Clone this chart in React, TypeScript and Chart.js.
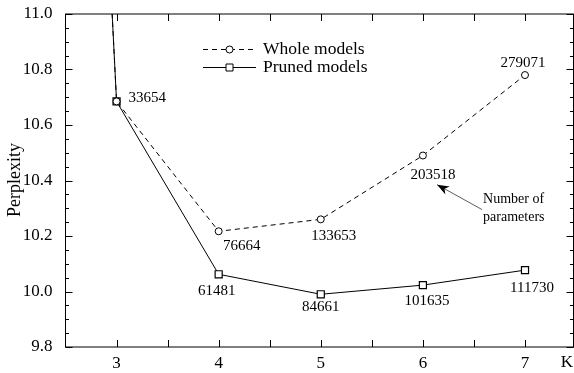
import React, { useEffect, useRef } from "react";
import { Chart, registerables } from "chart.js";

Chart.register(...registerables);

const categories = [2, 3, 4, 5, 6, 7];
const wholeValues = [18.0, 10.685, 10.217, 10.26, 10.49, 10.78];
const prunedValues = [18.0, 10.685, 10.062, 9.99, 10.023, 10.077];
const wholeParams = ["", "33654", "76664", "133653", "203518", "279071"];
const prunedParams = ["", "", "61481", "84661", "101635", "111730"];
const xTicks = [3, 4, 5, 6, 7];
const yTicks = [9.8, 10.0, 10.2, 10.4, 10.6, 10.8, 11.0];
const seriesNames = ["Whole models", "Pruned models"];
const annotationLines = ["Number of", "parameters"];

const FONT = "'Liberation Serif', 'Times New Roman', serif";

// label offsets (styling): [dx, dy, align]
const wholeLabelOffsets: [number, number, CanvasTextAlign][] = [
  [0, 0, "center"],
  [12, -3, "left"],
  [23, 15, "center"],
  [13, 17, "center"],
  [10, 20, "center"],
  [-2, -12, "center"],
];
const prunedLabelOffsets: [number, number, CanvasTextAlign][] = [
  [0, 0, "center"],
  [0, 0, "center"],
  [-2, 17, "center"],
  [0, 13, "center"],
  [4, 16, "center"],
  [7, 18, "center"],
];

const zeroPad = (s: any) => {
  s.paddingLeft = 0;
  s.paddingRight = 0;
  s.paddingTop = 0;
  s.paddingBottom = 0;
};

const decorPlugin = {
  id: "decor",
  afterDatasetsDraw(chart: any) {
    const ctx = chart.ctx;
    ctx.save();
    ctx.fillStyle = "#000";
    ctx.font = `15px ${FONT}`;
    ctx.textBaseline = "middle";
    const labelSets = [
      [wholeParams, wholeLabelOffsets],
      [prunedParams, prunedLabelOffsets],
    ] as const;
    labelSets.forEach(([labels, offs], di) => {
      const meta = chart.getDatasetMeta(di);
      meta.data.forEach((pt: any, i: number) => {
        const t = labels[i];
        if (!t) return;
        const [dx, dy, al] = offs[i];
        ctx.textAlign = al;
        ctx.fillText(t, pt.x + dx, pt.y + dy);
      });
    });
    ctx.restore();
  },
  afterDraw(chart: any) {
    const ctx = chart.ctx;
    const ca = chart.chartArea;
    const xs = chart.scales.x;
    const ys = chart.scales.y;
    ctx.save();
    ctx.strokeStyle = "#000";
    ctx.lineWidth = 1;
    // frame
    ctx.strokeRect(ca.left, ca.top, ca.right - ca.left, ca.bottom - ca.top);
    // y ticks
    ctx.beginPath();
    for (let k = 0; k <= 24; k++) {
      const v = 9.8 + k * 0.05;
      const y = Math.round(ys.getPixelForValue(v)) + 0.5;
      const len = k % 4 === 0 ? 7 : 3.5;
      ctx.moveTo(ca.left, y);
      ctx.lineTo(ca.left + len, y);
      ctx.moveTo(ca.right, y);
      ctx.lineTo(ca.right - len, y);
    }
    // x ticks
    for (let k = 0; k <= 8; k++) {
      const v = 3 + k * 0.5;
      const x = Math.round(xs.getPixelForValue(v)) + 0.5;
      ctx.moveTo(x, ca.bottom);
      ctx.lineTo(x, ca.bottom - 7);
      ctx.moveTo(x, ca.top);
      ctx.lineTo(x, ca.top + 7);
    }
    ctx.stroke();

    // axis titles
    ctx.fillStyle = "#000";
    ctx.font = `17px ${FONT}`;
    ctx.textAlign = "center";
    ctx.textBaseline = "middle";
    ctx.fillText("K", 567, 363);
    ctx.save();
    ctx.translate(15, 180);
    ctx.rotate(-Math.PI / 2);
    ctx.font = `18px ${FONT}`;
    ctx.fillText("Perplexity", 0, 0);
    ctx.restore();

    // legend
    const rows = [49, 67];
    ctx.font = `17.5px ${FONT}`;
    ctx.textAlign = "left";
    rows.forEach((ry, i) => {
      ctx.beginPath();
      ctx.setLineDash(i === 0 ? [5, 4] : []);
      ctx.moveTo(203, ry + 0.5);
      ctx.lineTo(256, ry + 0.5);
      ctx.stroke();
      ctx.setLineDash([]);
      ctx.beginPath();
      if (i === 0) {
        ctx.arc(229.5, ry + 0.5, 3.5, 0, Math.PI * 2);
      } else {
        ctx.rect(226, ry - 3, 7, 7);
      }
      ctx.fillStyle = "#fff";
      ctx.fill();
      ctx.stroke();
      ctx.fillStyle = "#000";
      ctx.fillText(chart.data.datasets[i].label, 263, ry);
    });

    // annotation arrow
    const tipX = xs.getPixelForValue(6.139);
    const tipY = ys.getPixelForValue(10.385);
    const tailX = xs.getPixelForValue(6.58);
    const tailY = ys.getPixelForValue(10.295);
    ctx.strokeStyle = "#333";
    ctx.lineWidth = 0.8;
    ctx.beginPath();
    ctx.moveTo(tailX, tailY);
    ctx.lineTo(tipX, tipY);
    ctx.stroke();
    const ang = Math.atan2(tipY - tailY, tipX - tailX);
    const hl = 12, hw = 4.5;
    ctx.beginPath();
    ctx.moveTo(tipX, tipY);
    ctx.lineTo(
      tipX - hl * Math.cos(ang) + hw * Math.sin(ang),
      tipY - hl * Math.sin(ang) - hw * Math.cos(ang)
    );
    ctx.lineTo(tipX - hl * 0.7 * Math.cos(ang), tipY - hl * 0.7 * Math.sin(ang));
    ctx.lineTo(
      tipX - hl * Math.cos(ang) - hw * Math.sin(ang),
      tipY - hl * Math.sin(ang) + hw * Math.cos(ang)
    );
    ctx.closePath();
    ctx.fillStyle = "#000";
    ctx.fill();
    ctx.font = `14px ${FONT}`;
    ctx.textAlign = "left";
    ctx.fillText(annotationLines[0], tailX + 1, tailY - 10);
    ctx.fillText(annotationLines[1], tailX + 1, tailY + 8);
    ctx.restore();
  },
};

export default function App() {
  const ref = useRef<HTMLCanvasElement>(null);
  useEffect(() => {
    document.body.style.margin = "0";
    const canvas = ref.current!;
    const chart = new Chart(canvas, {
      type: "line",
      data: {
        datasets: [
          {
            label: seriesNames[0],
            data: categories.map((k, i) => ({ x: k, y: wholeValues[i] })),
            borderColor: "#000",
            borderWidth: 1,
            borderDash: [5, 4],
            pointStyle: "circle",
            pointRadius: categories.map((k) => (k < 3 ? 0 : 3.5)),
            pointBackgroundColor: "#fff",
            pointBorderColor: "#000",
            pointBorderWidth: 1,
            tension: 0,
          },
          {
            label: seriesNames[1],
            data: categories.map((k, i) => ({ x: k, y: prunedValues[i] })),
            borderColor: "#000",
            borderWidth: 1,
            pointStyle: "rect",
            pointRadius: categories.map((k) => (k < 3 ? 0 : 5)),
            pointBackgroundColor: "#fff",
            pointBorderColor: "#000",
            pointBorderWidth: 1.2,
            tension: 0,
          },
        ],
      },
      options: {
        animation: false,
        responsive: false,
        events: [],
        layout: { autoPadding: false, padding: { top: 14, right: 0.5, left: 0, bottom: 0 } },
        plugins: { legend: { display: false }, tooltip: { enabled: false } },
        scales: {
          x: {
            type: "linear",
            min: 2.5,
            max: 7.475,
            grid: { display: false },
            border: { display: false },
            afterBuildTicks: (s: any) => {
              s.ticks = xTicks.map((v) => ({ value: v }));
            },
            afterFit: (s: any) => {
              s.height = 26;
              zeroPad(s);
            },
            ticks: {
              color: "#000",
              font: { family: FONT, size: 17 },
              padding: -2,
              maxRotation: 0,
              callback: (v: any) => String(v),
            },
          },
          y: {
            type: "linear",
            min: 9.8,
            max: 11.0,
            grid: { display: false },
            border: { display: false },
            afterBuildTicks: (s: any) => {
              s.ticks = yTicks.map((v) => ({ value: v }));
            },
            afterFit: (s: any) => {
              s.width = 65.5;
              zeroPad(s);
            },
            ticks: {
              color: "#000",
              font: { family: FONT, size: 17 },
              padding: 5,
              callback: (v: any) => Number(v).toFixed(1),
            },
          },
        },
      },
      plugins: [decorPlugin],
    });
    return () => chart.destroy();
  }, []);
  return (
    <div style={{ width: 574, height: 373 }}>
      <canvas ref={ref} width={574} height={373} style={{ display: "block" }} />
    </div>
  );
}
